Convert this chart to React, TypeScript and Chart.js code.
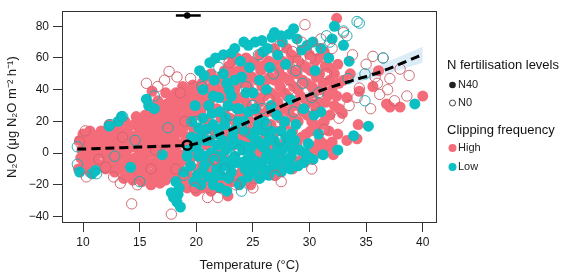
import React, { useEffect, useRef } from "react";
import { Chart, registerables } from "chart.js";
Chart.register(...registerables);

const FONT = "'Liberation Sans', Arial, Helvetica, sans-serif";
const PINK = "#F46C7A";
const CYAN = "#0CBFC3";
const PINK_OPEN = "rgba(205,100,112,0.95)";
const CYAN_OPEN = "rgba(30,170,176,0.95)";

const xTicks = [10, 15, 20, 25, 30, 35, 40];
const yTicks = [-40, -20, 0, 20, 40, 60, 80];
const yTickLabels = ["\u221240", "\u221220", "0", "20", "40", "60", "80"];

// N40, High clipping (filled pink) [temperature, N2O]
const n40High: [number, number][] = [
  [9.7, 8], [9.8, -3], [9.9, 2], [10.0, 12], [9.6, -10],
  [10.4, -8], [10.5, 4], [10.6, 14], [10.3, -1], [10.7, 9], [10.6, -12],
  [11.2, -6], [11.3, 3], [11.4, 10], [11.1, -1],
  [12.0, -10], [12.1, -3], [12.2, 5], [12.0, 12], [12.3, 18],
  [12.8, -12], [12.9, -5], [13.0, 2], [12.8, 9], [13.1, 15],
  [13.6, -16], [13.7, -8], [13.8, 0], [13.6, 7], [13.9, 14], [13.7, 20],
  [14.4, -17], [14.5, -10], [14.6, -3], [14.4, 4], [14.6, 11], [14.5, 18], [14.7, 23],
  [15.2, -18], [15.3, -11], [15.4, -4], [15.2, 3], [15.4, 10], [15.3, 17], [15.5, 24],
  [16.0, -20], [16.1, -13], [16.2, -6], [16.0, 1], [16.2, 8], [16.1, 15], [16.0, 22], [16.2, 29], [16.1, 39],
  [16.8, -19], [16.9, -12], [17.0, -5], [16.8, 2], [17.0, 9], [16.9, 16], [16.8, 23], [17.0, 30],
  [17.6, -14], [17.7, -7], [17.8, 0], [17.6, 7], [17.8, 14], [17.7, 21], [17.6, 28], [17.8, 35],
  [18.4, -15], [18.5, -8], [18.6, -1], [18.4, 6], [18.6, 13], [18.5, 20], [18.4, 27], [18.6, 34], [18.8, 42],
  [19.2, -22], [19.3, -14], [19.4, -5], [19.2, 10], [19.4, 18], [19.3, 26], [19.2, 33], [19.5, 39],
  [20.0, -24], [20.1, -10], [20.2, 8], [20.0, 24], [20.2, 32], [20.1, 40],
  [20.8, -18], [20.9, 5], [21.0, 20], [20.8, 30], [21.0, 38], [20.9, 48],
  [21.6, -8], [21.7, 12], [21.8, 28], [21.6, 38], [21.8, 46],
  [22.5, -22], [22.8, -27], [22.4, -2], [22.6, 15], [22.5, 25], [22.4, 35], [22.6, 44], [22.5, 52],
  [23.2, -18], [23.3, 5], [23.4, 20], [23.2, 30], [23.4, 40], [23.3, 50], [23.2, 58],
  [24.0, -12], [24.1, 10], [24.2, 25], [24.0, 35], [24.2, 45], [24.1, 55],
  [24.8, -20], [24.9, 0], [25.0, 18], [24.8, 28], [25.0, 38], [24.9, 48], [24.8, 58],
  [25.6, -13], [25.7, -2], [25.8, 22], [25.6, 32], [25.8, 42], [25.7, 52], [25.6, 62],
  [26.4, -12], [26.5, 6], [26.6, 18], [26.4, 28], [26.6, 38], [26.5, 48], [26.4, 58],
  [27.2, -10], [27.3, -2], [27.4, 22], [27.2, 32], [27.4, 42], [27.3, 52], [27.2, 62],
  [28.0, -8], [28.1, 10], [28.2, 26], [28.0, 36], [28.2, 46], [28.1, 56], [28.0, 66],
  [28.8, -6], [28.9, 6], [29.0, 20], [28.8, 30], [29.0, 40], [28.9, 50], [28.8, 60],
  [29.6, -2], [29.7, 12], [29.8, 24], [29.6, 34], [29.8, 44], [29.7, 54],
  [30.4, 4], [30.5, 16], [30.6, 28], [30.4, 38], [30.6, 48], [30.5, 58],
  [31.2, 6], [31.3, 20], [31.4, 32], [31.2, 44], [31.4, 55], [31.3, 64],
  [32.0, 7], [32.1, -1], [32.2, 30], [32.0, 40], [32.2, 50], [32.4, 85],
  [33.0, 46], [33.3, 8], [33.6, 50], [32.9, 25], [33.3, 35],
  [34.2, 9], [34.3, 18], [34.4, 39],
  [35.6, 42], [36.1, 52], [36.8, 31], [37.1, 29], [38.0, 29], [40.0, 36],
  [10.1, -7], [10.2, 0], [10.1, 7], [10.9, -4], [10.9, 5], [10.8, 12], [11.7, -8], [11.7, 0],
  [11.8, 7], [11.6, 14], [12.5, -8], [12.5, 0], [12.6, 7], [12.5, 14], [13.3, -10], [13.3, -2],
  [13.4, 5], [13.3, 12], [13.2, 19], [14.1, -13], [14.1, -5], [14.0, 3], [14.2, 10], [14.1, 17],
  [14.9, -14], [14.9, -6], [15.0, 1], [14.8, 8], [15.0, 15], [14.9, 21],
  [15.7, -15], [15.7, -7], [15.8, 0], [15.6, 7], [15.8, 13], [15.7, 20], [15.9, 26],
  [16.5, -16], [16.5, -8], [16.6, -1], [16.4, 5], [16.6, 12], [16.5, 19], [16.4, 26], [16.6, 33],
  [17.3, -17], [17.3, -9], [17.4, -2], [17.2, 5], [17.4, 11], [17.3, 18], [17.2, 25], [17.4, 31], [17.3, 38],
  [18.1, -11], [18.1, -3], [18.2, 3], [18.0, 10], [18.2, 17], [18.1, 24], [18.0, 31], [18.2, 38],
  [18.9, -19], [18.9, -4], [19.0, 7], [18.8, 15], [19.0, 22], [18.9, 29], [19.0, 36],
  [19.7, -17], [19.7, -2], [19.8, 13], [19.6, 28], [19.8, 35], [19.7, 43],
  [20.5, -22], [20.5, -5], [20.6, 12], [20.4, 26], [20.6, 35], [20.5, 44],
  [21.3, -24], [21.3, -12], [21.4, 15], [21.2, 33], [21.4, 42], [21.3, 50],
  [22.1, -18], [22.1, 0], [22.2, 22], [22.0, 40], [22.2, 48],
  [22.9, -6], [22.9, 10], [23.0, 22], [22.8, 38], [23.0, 48], [22.9, 55],
  [23.7, -14], [23.7, 8], [23.8, 22], [23.6, 34], [23.8, 44], [23.7, 52], [23.6, 60],
  [24.5, -8], [24.5, 6], [24.6, 22], [24.4, 32], [24.6, 42], [24.5, 52], [24.4, 60],
  [25.3, -16], [25.3, 2], [25.4, 26], [25.2, 36], [25.4, 46], [25.3, 56],
  [26.1, -4], [26.1, 12], [26.2, 26], [26.0, 36], [26.2, 46], [26.1, 56], [26.0, 64],
  [26.9, -14], [26.9, 2], [27.0, 14], [26.8, 26], [27.0, 36], [26.9, 46], [26.8, 56], [26.9, 66],
  [27.7, -6], [27.7, 6], [27.8, 18], [27.6, 28], [27.8, 38], [27.7, 48], [27.6, 58],
  [28.5, -10], [28.5, 14], [28.6, 22], [28.4, 32], [28.6, 42], [28.5, 52], [28.4, 62],
  [29.3, -4], [29.3, 10], [29.4, 26], [29.2, 36], [29.4, 46], [29.3, 56],
  [30.1, 2], [30.1, 14], [30.2, 20], [30.0, 32], [30.2, 42], [30.1, 52], [30.0, 62],
  [30.9, 0], [30.9, 8], [31.0, 18], [30.8, 32], [31.0, 40], [30.9, 50], [30.8, 60],
  [31.7, 4], [31.7, 14], [31.8, 24], [31.6, 36], [31.8, 46], [31.7, 54],
  [32.5, 12], [32.6, 28], [32.4, 36], [32.6, 44], [32.5, 56],
];

// N40, Low clipping (filled cyan)
const n40Low: [number, number][] = [
  [10.8, -13], [11.1, -11], [9.7, -12], [12.3, 17], [13.1, 20], [13.4, 23],
  [15.6, 34], [15.8, 30], [16.3, 28], [14.2, -9], [17.0, -1],
  [18.3, -31], [18.0, -28], [17.8, -25], [18.5, -22], [18.2, -18], [18.6, -34], [18.4, -26],
  [18.9, -12], [19.6, 20], [19.3, 2],
  [20.3, 0], [20.5, -12], [20.7, 49], [20.9, 15], [21.2, 57], [21.1, -5], [21.4, 25],
  [20.4, -20], [20.2, 16], [21.0, -15],
  [21.6, -15], [21.8, 5], [22.0, 35], [22.1, -22], [22.4, -8], [22.5, 18], [22.7, 44],
  [22.9, -16], [23.1, 63], [23.2, 10], [21.9, -2], [22.3, 8], [22.8, 30], [23.0, -8],
  [23.4, -2], [23.6, 28], [23.8, -20], [24.0, 48], [24.1, 2], [24.3, -10], [24.6, 68],
  [24.6, -15], [24.8, 12], [25.0, 38], [23.5, 15], [24.2, 20], [24.5, -4], [23.9, 58],
  [25.2, -5], [25.4, 8], [25.8, 71], [25.6, -16], [26.0, 20], [26.2, -2], [26.5, 10],
  [26.7, 73], [26.8, -8], [25.3, 14], [25.9, 4], [26.3, 66], [26.0, -10], [26.6, 30],
  [27.0, 0], [27.2, 62], [27.5, 14], [27.8, -4], [28.0, 6], [28.2, 75], [28.3, -10],
  [28.6, 78.5], [28.5, 2], [28.8, 18], [29.0, -8], [29.3, 65], [29.6, 0], [30.0, -3],
  [27.9, 56], [27.6, 70], [28.4, -2],
  [30.3, 70], [30.8, 12], [31.2, -1], [31.7, 60], [32.2, 80], [32.5, 2], [33.0, 68],
  [33.9, 11], [35.2, 17], [39.3, 31], [33.5, 58], [30.5, 52], [31.0, 26],
  [19.5, -8], [19.8, -18], [20.0, 4], [20.7, -8], [20.8, 8], [21.3, 0], [21.5, -20],
  [21.9, 15], [22.2, -14], [22.6, 2], [22.7, -24], [23.1, -12], [23.3, 14], [23.6, -6],
  [23.9, 5], [24.0, -18], [24.3, 14], [24.7, -10], [24.9, 4], [25.1, -12], [25.5, 18],
  [25.8, -6], [26.1, 6], [26.4, -14], [26.6, 14], [27.0, -10], [27.2, 4], [27.5, -12],
  [27.9, 10], [28.2, -4], [28.7, 8], [29.1, 2], [29.5, -6], [29.9, 6], [30.3, -4],
  [20.3, 52], [21.7, 60], [22.4, 62], [23.4, 66], [24.2, 70], [25.2, 70], [25.9, 64],
  [26.9, 76], [27.5, 74], [28.9, 72], [29.8, 68], [31.0, 66], [32.0, 72],
  [21.1, 30], [22.1, 26], [23.1, 36], [24.4, 38], [25.2, 28], [26.2, 40], [27.1, 24],
  [28.3, 34], [29.5, 28], [30.4, 24], [20.6, 22], [19.9, 30],
  [20.1, -14], [20.4, 10], [20.9, -2], [21.2, 8], [21.5, 18], [21.8, -10], [22.0, 12],
  [22.3, -4], [22.6, 22], [22.9, 4], [23.2, -4], [23.5, 6], [23.7, 20], [24.0, -6],
  [24.3, 4], [24.6, 26], [24.8, -2], [25.1, 10], [25.4, -8], [25.7, 6], [26.0, 14],
  [26.3, 0], [26.6, -4], [26.9, 8], [27.2, -6], [27.6, 2], [27.8, 20], [28.1, -8],
  [28.4, 12], [20.6, 40], [21.6, 46], [22.4, 50], [23.4, 46], [24.7, 54], [25.6, 46],
  [26.5, 54], [23.8, 28], [22.9, 40], [21.5, 36], [19.6, 10], [19.2, -2], [20.2, -2],
];

// N0, High clipping (open pink)
const n0High: [number, number][] = [
  [10.3, -15], [10.2, 14], [9.7, 7], [12.0, -9], [12.7, -15], [13.3, -19], [14.3, -32],
  [14.8, -20], [17.8, -38.5], [21.0, -28], [21.9, -28], [15.6, 44], [16.6, 42], [17.6, 51.5],
  [18.3, 48], [17.2, 46], [18.6, 38], [19.5, 47], [22.9, 57], [29.6, 81], [33.0, 76],
  [35.6, 61], [36.5, 60], [35.0, 56], [34.4, 41], [36.2, 37], [36.0, 44], [34.2, 35],
  [37.1, 47], [38.0, 53], [38.8, 49], [38.6, 36], [36.9, 40], [35.4, 28], [33.5, 30],
  [32.6, 22], [31.3, 15], [30.2, -10], [27.5, -18], [25.0, -22], [11.4, -4], [16.0, -10],
  [19.9, -22], [27.4, 68], [28.5, 64], [29.3, 70], [30.1, 60], [31.0, 72], [32.0, 66],
  [30.6, 65], [29.0, 58], [33.8, 62], [37.5, 33], [35.8, 48],
  [13.5, 10], [16.4, 2], [19.0, 20], [21.6, -4], [24.2, 14], [26.4, 34], [28.2, 40],
  [30.4, 30], [27.0, -14], [23.5, -20], [18.2, -10], [31.5, 50],
];

// N0, Low clipping (open cyan)
const n0Low: [number, number][] = [
  [9.5, 4], [9.5, -7], [11.2, -13], [12.4, 18], [13.5, 23], [16.3, 36], [20.5, 42],
  [22.0, 54], [25.5, 62], [31.5, 74], [31.8, 70], [33.3, 74], [34.4, 82], [34.9, 50],
  [34.9, 33], [36.5, 60], [33.4, 47], [30.2, 35], [28.8, 52], [25.8, 28], [24.0, -24],
  [15.0, -18], [18.9, -14], [34.2, 83], [33.0, 77],
  [21.0, 10], [22.5, -10], [23.8, 2], [25.0, 30], [26.2, 18], [27.4, 8], [28.6, 26],
  [24.4, 42], [20.0, 20], [17.5, 16], [14.6, 8], [12.8, -2], [29.4, 44], [30.8, 38],
  [26.8, 50], [23.0, 24],
];

// fitted curve and its confidence band
const fitTemp = [9.5, 12, 15, 18, 19.2, 20, 21.6, 24.4, 28, 31.2, 33.9, 36.2, 39.6, 40];
const fitN2O = [2.5, 3, 3.8, 4.6, 5, 6, 10.5, 19, 31, 40, 46, 51, 61, 62];
const bandTemp = [9.5, 15, 20, 25, 30, 33, 36, 40];
const bandLow = [1, 2.5, 4, 19, 34.5, 42, 48, 57];
const bandHigh = [4, 5, 7.5, 23, 39.5, 48, 55, 67];

// group means (N40 at top with error bar, N0 on the curve)
const n40Mean = { x: 19.2, y: 86.8, lo: 18.2, hi: 20.4 };
const n0Mean = { x: 19.2, y: 5 };

const pts = (a: [number, number][]) => a.map(([x, y]) => ({ x, y }));
const zip = (xs: number[], ys: number[]) => xs.map((x, i) => ({ x, y: ys[i] }));

const framePlugin = {
  id: "frameLegend",
  afterDatasetsDraw(chart: any) {
    const { ctx, chartArea: a } = chart;
    ctx.save();
    ctx.strokeStyle = "#333";
    ctx.lineWidth = 1;
    const l = Math.round(a.left) + 0.5;
    const t = Math.round(a.top) + 0.5;
    const r = Math.round(a.right) - 0.5;
    const b = Math.round(a.bottom) - 0.5;
    ctx.strokeRect(l, t, r - l, b - t);

    // legend
    ctx.fillStyle = "#111";
    ctx.textBaseline = "middle";
    ctx.textAlign = "left";
    ctx.font = `13px ${FONT}`;
    ctx.fillText("N fertilisation levels", 447, 65);
    ctx.fillText("Clipping frequency", 447, 130);
    ctx.font = `11px ${FONT}`;
    ctx.fillStyle = "#222";
    ctx.fillText("N40", 458, 85);
    ctx.fillText("N0", 458, 103);
    ctx.fillText("High", 458, 148);
    ctx.fillText("Low", 458, 167);

    ctx.beginPath();
    ctx.arc(452.5, 85, 3.3, 0, Math.PI * 2);
    ctx.fillStyle = "#222";
    ctx.fill();
    ctx.beginPath();
    ctx.arc(452.5, 103, 3, 0, Math.PI * 2);
    ctx.strokeStyle = "#444";
    ctx.lineWidth = 1;
    ctx.stroke();
    ctx.beginPath();
    ctx.arc(452.5, 148, 4, 0, Math.PI * 2);
    ctx.fillStyle = PINK;
    ctx.fill();
    ctx.beginPath();
    ctx.arc(452.5, 167, 4, 0, Math.PI * 2);
    ctx.fillStyle = CYAN;
    ctx.fill();
    ctx.restore();
  },
};

export default function App() {
  const ref = useRef<HTMLCanvasElement | null>(null);
  useEffect(() => {
    document.body.style.margin = "0";
    const canvas = ref.current;
    if (!canvas) return;
    const chart = new Chart(canvas, {
      type: "scatter",
      data: {
        datasets: [
          {
            label: "bandHigh",
            data: zip(bandTemp, bandHigh),
            showLine: true,
            borderWidth: 0,
            pointRadius: 0,
            backgroundColor: "rgba(214,233,245,0.85)",
            borderColor: "rgba(0,0,0,0)",
            fill: "+1",
            order: 20,
          } as any,
          {
            label: "bandLow",
            data: zip(bandTemp, bandLow),
            showLine: true,
            borderWidth: 0,
            pointRadius: 0,
            borderColor: "rgba(0,0,0,0)",
            order: 21,
          } as any,
          {
            label: "N40 High",
            data: pts(n40High),
            pointRadius: 5.5,
            pointBorderWidth: 0,
            backgroundColor: PINK,
            borderColor: PINK,
            order: 10,
          },
          {
            label: "N40 Low",
            data: pts(n40Low),
            pointRadius: 5.5,
            pointBorderWidth: 0,
            backgroundColor: CYAN,
            borderColor: CYAN,
            order: 9,
          },
          {
            label: "N0 High",
            data: pts(n0High),
            pointRadius: 5.2,
            pointBorderWidth: 1,
            backgroundColor: "rgba(0,0,0,0)",
            borderColor: PINK_OPEN,
            order: 8,
          },
          {
            label: "N0 Low",
            data: pts(n0Low),
            pointRadius: 5.2,
            pointBorderWidth: 1,
            backgroundColor: "rgba(0,0,0,0)",
            borderColor: CYAN_OPEN,
            order: 7,
          },
          {
            label: "fit",
            data: zip(fitTemp, fitN2O),
            showLine: true,
            borderColor: "#000",
            borderWidth: 3,
            borderDash: [9, 5],
            pointRadius: 0,
            tension: 0.3,
            order: 3,
          } as any,
          {
            label: "N40 err",
            data: [
              { x: n40Mean.lo, y: n40Mean.y },
              { x: n40Mean.hi, y: n40Mean.y },
            ],
            showLine: true,
            borderColor: "#000",
            borderWidth: 2.5,
            pointRadius: 0,
            order: 2,
          } as any,
          {
            label: "N40 mean",
            data: [{ x: n40Mean.x, y: n40Mean.y }],
            pointRadius: 3.2,
            pointBorderWidth: 0,
            backgroundColor: "#000",
            order: 1,
          },
          {
            label: "N0 mean",
            data: [{ x: n0Mean.x, y: n0Mean.y }],
            pointRadius: 4.5,
            pointBorderWidth: 2.5,
            backgroundColor: "rgba(0,0,0,0)",
            borderColor: "#000",
            order: 1,
          },
        ],
      },
      options: {
        animation: false,
        responsive: false,
        devicePixelRatio: 1,
        layout: { padding: { top: 2, right: 133, left: 0, bottom: 0 } },
        plugins: { legend: { display: false }, tooltip: { enabled: false } },
        scales: {
          x: {
            type: "linear",
            min: 8.145,
            max: 41.26,
            afterBuildTicks: (s: any) => {
              s.ticks = xTicks.map((v) => ({ value: v }));
            },
            afterFit: (s: any) => {
              s.height = 50;
            },
            grid: { drawOnChartArea: false, drawTicks: true, tickLength: 9, tickColor: "#333", lineWidth: 1 },
            border: { display: false },
            ticks: {
              autoSkip: false,
              maxRotation: 0,
              padding: 3,
              color: "#1a1a1a",
              font: { family: FONT, size: 12 },
            },
            title: {
              display: true,
              text: "Temperature (\u00B0C)",
              color: "#1a1a1a",
              font: { family: FONT, size: 13 },
              padding: { top: 0, bottom: 0 },
            },
          },
          y: {
            type: "linear",
            min: -44.1,
            max: 89.5,
            afterBuildTicks: (s: any) => {
              s.ticks = yTicks.map((v) => ({ value: v }));
            },
            afterFit: (s: any) => {
              s.width = 62;
            },
            grid: { drawOnChartArea: false, drawTicks: true, tickLength: 9, tickColor: "#333", lineWidth: 1 },
            border: { display: false },
            ticks: {
              autoSkip: false,
              padding: 4,
              color: "#1a1a1a",
              font: { family: FONT, size: 12 },
              callback: (v: any) => {
                const i = yTicks.indexOf(Number(v));
                return i >= 0 ? yTickLabels[i] : "";
              },
            },
            title: {
              display: true,
              text: "N\u2082O (\u03BCg N\u2082O m\u207B\u00B2 h\u207B\u00B9)",
              color: "#1a1a1a",
              font: { family: FONT, size: 13 },
              padding: { top: 5, bottom: 0 },
            },
          },
        },
      },
      plugins: [framePlugin],
    } as any);
    return () => chart.destroy();
  }, []);
  return (
    <div style={{ position: "fixed", left: 0, top: 0, width: 570, height: 273, background: "#fff" }}>
      <canvas ref={ref} width={570} height={273} style={{ width: 570, height: 273, display: "block" }} />
    </div>
  );
}
